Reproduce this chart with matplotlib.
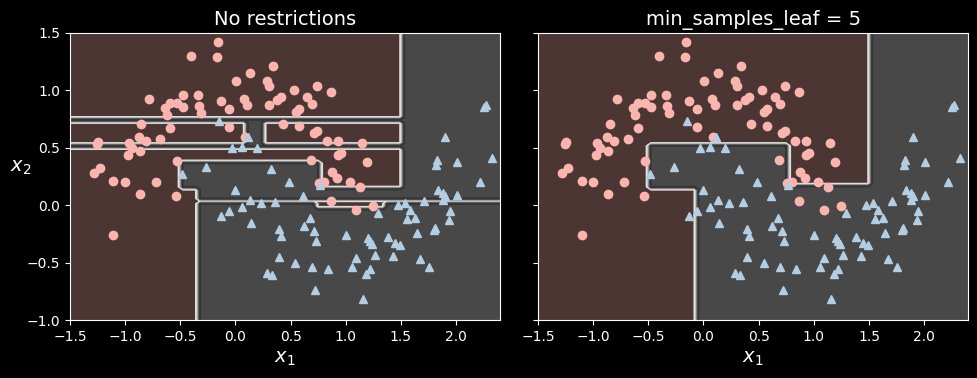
import numpy as np
import matplotlib
matplotlib.use("Agg")
import matplotlib.pyplot as plt

plt.style.use("dark_background")

# moons points
red_x = [-0.161, -0.406, -0.170, 0.339, 0.130, 0.003, 0.285, 0.303, 0.530, 0.645,
         -0.788, -0.479, -0.343, -0.127, 0.073, 0.100, -0.057, 0.303, 0.379, 0.409,
         0.545, 0.576, -0.591, -0.530, -0.636, -0.621, -0.479, -0.330, -0.312, -0.852,
         -0.597, -0.061, 0.433, 0.576, 0.085, -0.876, -0.815, -0.688, -1.245, -1.258,
         -0.964, -0.939, -0.864, -0.976, -0.534, -1.227, -1.282, -1.106, -1.006, -0.718,
         0.682, 0.742, 0.864, 0.697, 0.712, 0.742, 0.833, 0.930, 1.148, 0.930,
         0.961, 1.194, 0.879, 0.924, 0.760, 0.800, 1.039, 1.125, -0.864, -0.543,
         -1.106, 0.864, 1.091, 1.250]
red_y = [1.419, 1.302, 1.294, 1.215, 1.149, 1.079, 1.079, 1.041, 1.000, 0.940,
         0.925, 0.957, 0.957, 0.905, 0.925, 0.873, 0.835, 0.873, 0.916, 0.945,
         0.814, 0.838, 0.888, 0.888, 0.844, 0.786, 0.853, 0.864, 0.800, 0.705,
         0.670, 0.679, 0.707, 0.690, 0.591, 0.597, 0.562, 0.574, 0.548, 0.530,
         0.545, 0.495, 0.469, 0.437, 0.385, 0.321, 0.278, 0.213, 0.199, 0.199,
         0.394, 1.036, 0.989, 0.879, 0.626, 0.649, 0.559, 0.559, 0.539, 0.437,
         0.457, 0.374, 0.292, 0.234, 0.190, 0.200, 0.205, 0.155, 0.095, 0.080,
         -0.262, 0.035, -0.045, -0.010]

blue_x = [-0.152, 0.112, -0.036, 0.055, 0.197, -0.270, -0.485, 0.321, 0.485, 2.273,
          2.252, 1.903, 1.830, 1.822, 2.012, 2.322, 2.221, 1.836, 1.882, 1.900,
          1.880, 2.010, 1.945, 1.936, 1.806, 0.767, 0.610, 0.360, 0.676, 0.624,
          0.715, 0.730, 0.397, 0.412, 0.392, 0.544, 0.694, 0.837, 0.288, 0.333,
          0.721, 1.002, 1.200, 1.221, 1.236, 1.093, 1.058, 1.216, 1.184, 1.262,
          1.155, 1.292, 1.383, 1.443, 1.488, 1.428, 1.474, 1.535, 1.578, 1.555,
          1.624, 1.710, 1.645, 1.800, 1.676, 1.755, 0.227, 0.128, 0.140, -0.006,
          -0.134, -0.061, 0.055]
blue_y = [0.733, 0.597, 0.496, 0.510, 0.496, 0.335, 0.269, 0.315, 0.200, 0.873,
          0.855, 0.597, 0.394, 0.350, 0.375, 0.415, 0.198, 0.132, 0.110, 0.083,
          0.045, 0.086, -0.048, -0.129, -0.201, 0.176, 0.083, 0.030, -0.109, -0.179,
          -0.222, -0.309, -0.207, -0.268, -0.449, -0.501, -0.536, -0.558, -0.588, -0.608,
          -0.739, -0.262, -0.288, -0.312, -0.338, -0.463, -0.541, -0.558, -0.600, -0.437,
          -0.820, -0.071, -0.280, -0.327, -0.347, -0.440, 0.000, 0.017, -0.045, -0.123,
          -0.109, 0.040, -0.245, -0.216, -0.471, -0.536, 0.016, 0.045, -0.158, 0.135,
          -0.091, -0.048, -0.018]

# leaf rectangles predicting class 0 (x0, x1, y0, y1), rest is class 1
leaves_free = [(-1.5, 1.515, 0.76, 1.6), (-1.5, 0.09, 0.54, 0.72), (0.26, 1.515, 0.54, 0.72),
               (-1.5, 1.515, 0.388, 0.50), (-1.5, -0.506, 0.138, 0.50), (-1.5, -0.355, -1.1, 0.138),
               (0.773, 1.515, 0.161, 0.50), (-0.355, 2.5, 0.02, 0.045), (0.736, 1.348, -0.036, 0.035)]
leaves_min5 = [(-1.5, 1.5, 0.539, 1.6), (-1.5, -0.515, 0.15, 0.539),
               (0.773, 1.5, 0.167, 0.539), (-1.5, -0.045, -1.1, 0.15)]

titles = ["No restrictions", "min_samples_leaf = 5"]
axes_lim = [-1.5, 2.4, -1, 1.5]


def predict(leaves, x1, x2):
    y = np.ones_like(x1)
    for a, b, c, d in leaves:
        y[(x1 >= a) & (x1 < b) & (x2 >= c) & (x2 < d)] = 0
    return y


def plot_boundary(ax, leaves):
    x1, x2 = np.meshgrid(np.linspace(axes_lim[0], axes_lim[1], 100),
                         np.linspace(axes_lim[2], axes_lim[3], 100))
    y_pred = predict(leaves, x1, x2)
    ax.contourf(x1, x2, y_pred, alpha=0.3, cmap="Pastel1")
    ax.contour(x1, x2, y_pred, cmap="Greys", alpha=0.8)
    ax.plot(red_x, red_y, color="#fbb4ae", marker="o", linestyle="none")
    ax.plot(blue_x, blue_y, color="#b3cde3", marker="^", linestyle="none")
    ax.axis(axes_lim)


fig, axs = plt.subplots(ncols=2, figsize=(9.78, 3.78), dpi=100, sharey=True)
fig.subplots_adjust(left=0.0716, right=0.990, bottom=0.1534, top=0.9127, wspace=0.088)
for ax, leaves, t in zip(axs, [leaves_free, leaves_min5], titles):
    plot_boundary(ax, leaves)
    ax.set_title(t, fontsize=14)
    ax.set_xlabel("$x_1$", fontsize=14)
axs[0].set_ylabel("$x_2$", fontsize=14, rotation=0)

fig.savefig("out.png", dpi=100)
